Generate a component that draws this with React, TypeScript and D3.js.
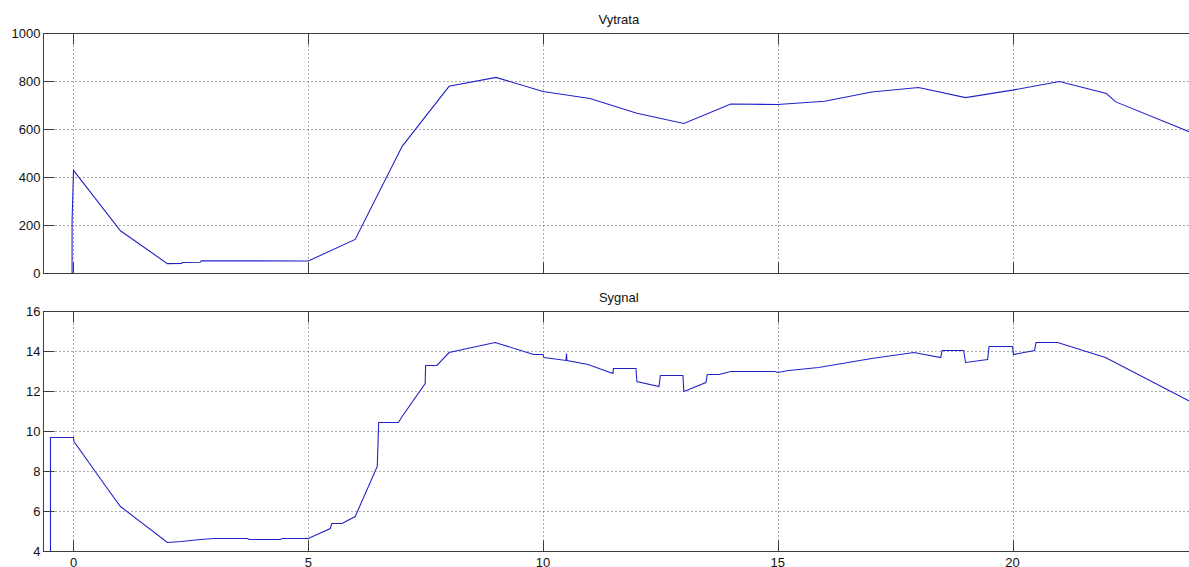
import React from 'react';
import * as d3 from 'd3';

// time axis shared by both panels
const xTicks = [0, 5, 10, 15, 20];

// Vytrata (upper panel)
const vytrataX = [-0.64, -0.03, -0.03, 0, 1, 2, 2.3, 2.32, 2.7, 2.72, 5, 6, 7, 8, 9, 10, 11, 12, 13, 14, 15, 16, 17, 18, 19, 20, 21, 22, 22.2, 23.87];
const vytrataY = [0, 0, 220, 430, 178, 41, 42, 46, 47, 53, 52, 142, 530, 780, 817, 758, 729, 668, 625, 706, 704, 718, 756, 775, 733, 764, 800, 750, 715, 582];
const vytrataTicks = [0, 200, 400, 600, 800, 1000];

// Sygnal (lower panel)
const sygnalX = [-0.64, -0.49, -0.49, 0, 0.01, 0.72, 1, 2, 2.3, 2.7, 3, 3.7, 3.75, 4.4, 4.45, 5, 5.47, 5.5, 5.72, 6, 6.47, 6.5, 6.92, 7, 7.49, 7.5, 7.74, 8, 8.98, 9.8, 10, 10.02, 10.49, 10.5, 10.51, 10.96, 11.49, 11.5, 11.98, 12, 12.47, 12.5, 12.98, 13, 13.47, 13.5, 13.75, 14, 14.94, 15, 15.23, 15.87, 17, 17.9, 18.47, 18.5, 18.96, 19, 19.47, 19.5, 20, 20.02, 20.47, 20.5, 20.96, 21.98, 23.87];
const sygnalY = [4, 4, 9.7, 9.7, 9.5, 7.15, 6.25, 4.45, 4.5, 4.6, 4.65, 4.65, 4.6, 4.6, 4.65, 4.65, 5.15, 5.4, 5.4, 5.75, 8.25, 10.45, 10.45, 10.75, 12.4, 13.3, 13.3, 13.95, 14.45, 13.85, 13.85, 13.7, 13.55, 13.9, 13.55, 13.35, 12.9, 13.15, 13.15, 12.5, 12.25, 12.8, 12.8, 12.0, 12.45, 12.85, 12.85, 13.0, 13.0, 12.95, 13.05, 13.2, 13.65, 13.95, 13.7, 14.05, 14.05, 13.45, 13.6, 14.25, 14.25, 13.85, 14.05, 14.45, 14.45, 13.7, 11.4];
const sygnalTicks = [4, 6, 8, 10, 12, 14, 16];

const W = 1189;
const H = 567;
const left = 43.45;
const right = 1194.2;
const font = 'Arial, "Liberation Sans", sans-serif';
const axisColor = '#3c3c3c';
const lineColor = '#2222c8';
const tickLen = 11;

const x = d3.scaleLinear().domain([-0.64, 23.87]).range([left, right]);

function Panel({ id, title, xs, ys, yDomain, yTicks, top, bottom, showX }) {
  const y = d3.scaleLinear().domain(yDomain).range([bottom, top]);
  const pts = xs.map((v, i) => [v, ys[i]]);
  const line = d3.line().x(d => x(d[0])).y(d => y(d[1]));
  const xIn = xTicks.map(t => Math.round(x(t)) + 0.5);

  return (
    <g>
      <clipPath id={id}>
        <rect x={left} y={top} width={right - left} height={bottom - top} />
      </clipPath>
      {/* grid */}
      <g stroke="#555" strokeWidth={1} strokeDasharray="1,3">
        {yTicks.filter(t => t !== yDomain[0] && t !== yDomain[1]).map(t => (
          <line key={'gy' + t} x1={left} x2={right} y1={y(t)} y2={y(t)} />
        ))}
        {xIn.map((px, i) => (
          <line key={'gx' + i} x1={px} x2={px} y1={top} y2={bottom} />
        ))}
      </g>
      <path d={line(pts)} fill="none" stroke={lineColor} strokeWidth={1.1} clipPath={`url(#${id})`} />
      {/* box */}
      <g stroke={axisColor} strokeWidth={1} fill="none">
        <rect x={left} y={top} width={right - left} height={bottom - top} />
        {xIn.map((px, i) => (
          <g key={'tx' + i}>
            <line x1={px} x2={px} y1={bottom} y2={bottom - tickLen} />
            <line x1={px} x2={px} y1={top} y2={top + tickLen} />
          </g>
        ))}
        {yTicks.map(t => (
          <line key={'ty' + t} x1={left} x2={left + tickLen} y1={y(t)} y2={y(t)} />
        ))}
      </g>
      <g fontFamily={font} fontSize={13} fill="#111">
        {yTicks.map(t => (
          <text key={'ly' + t} x={left - 3} y={y(t)} dy="0.35em" textAnchor="end">{t}</text>
        ))}
        {showX && xTicks.map(t => (
          <text key={'lx' + t} x={x(t)} y={bottom + 15} textAnchor="middle">{t}</text>
        ))}
        <text x={(left + right) / 2} y={top - 10} textAnchor="middle">{title}</text>
      </g>
    </g>
  );
}

export default function App() {
  return (
    <svg width={W} height={H} style={{ position: 'absolute', left: 0, top: 0, background: '#fff' }}>
      <rect width={W} height={H} fill="#fff" />
      <Panel id="clipA" title="Vytrata" xs={vytrataX} ys={vytrataY} yDomain={[0, 1000]} yTicks={vytrataTicks} top={33.5} bottom={273.5} showX={false} />
      <Panel id="clipB" title="Sygnal" xs={sygnalX} ys={sygnalY} yDomain={[4, 16]} yTicks={sygnalTicks} top={311.5} bottom={551.5} showX={true} />
    </svg>
  );
}
